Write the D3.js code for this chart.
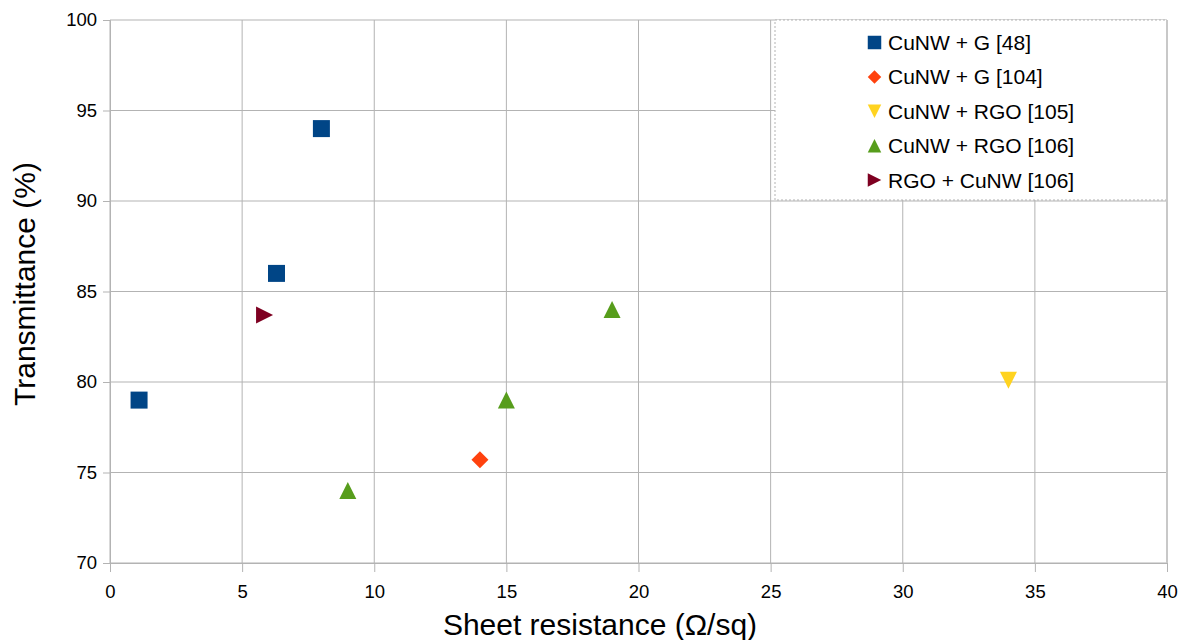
<!DOCTYPE html>
<html>
<head>
<meta charset="utf-8">
<script src="https://cdn.jsdelivr.net/npm/d3@7"></script>
<style>
  body { margin: 0; background: #fff; }
  svg { font-family: "Liberation Sans", Arial, sans-serif; }
</style>
</head>
<body>
<svg width="1182" height="640"></svg>
<script>
var width = 1182, height = 640;
var margin = {left: 110, right: 15, top: 20, bottom: 77};

// series
var seriesNames = ['CuNW + G [48]', 'CuNW + G [104]', 'CuNW + RGO [105]', 'CuNW + RGO [106]', 'RGO + CuNW [106]'];
var seriesColors = ['#004586', '#ff420e', '#ffd320', '#579d1c', '#7e0021'];
var seriesShapes = ['square', 'diamond', 'down', 'up', 'right'];
var cuG48 = [[1.1, 79], [6.3, 86], [8.0, 94]];
var cuG104 = [[14.0, 75.7]];
var cuRgo105 = [[34.0, 80.1]];
var cuRgo106 = [[9.0, 74], [15.0, 79], [19.0, 84]];
var rgoCu106 = [[5.85, 83.7]];
var seriesData = [cuG48, cuG104, cuRgo105, cuRgo106, rgoCu106];

var xTicks = [0, 5, 10, 15, 20, 25, 30, 35, 40];
var yTicks = [70, 75, 80, 85, 90, 95, 100];

var svg = d3.select('svg');
var x = d3.scaleLinear().domain([0, 40]).range([margin.left, width - margin.right]);
var y = d3.scaleLinear().domain([70, 100]).range([height - margin.bottom, margin.top]);

// grid
svg.append('g').selectAll('line.v').data(xTicks).enter().append('line')
  .attr('x1', d => x(d)).attr('x2', d => x(d))
  .attr('y1', y(100)).attr('y2', y(70))
  .attr('stroke', '#b3b3b3').attr('stroke-width', 1);
svg.append('g').selectAll('line.h').data(yTicks).enter().append('line')
  .attr('x1', x(0)).attr('x2', x(40))
  .attr('y1', d => y(d)).attr('y2', d => y(d))
  .attr('stroke', '#b3b3b3').attr('stroke-width', 1);

// axes
var xAxis = svg.append('g')
  .attr('transform', 'translate(0,' + y(70) + ')')
  .call(d3.axisBottom(x).tickValues(xTicks).tickSize(9).tickPadding(13));
var yAxis = svg.append('g')
  .attr('transform', 'translate(' + x(0) + ',0)')
  .call(d3.axisLeft(y).tickValues(yTicks).tickSize(7).tickPadding(6));
[xAxis, yAxis].forEach(function(a) {
  a.select('.domain').attr('stroke', '#b3b3b3');
  a.selectAll('.tick line').attr('stroke', '#b3b3b3');
  a.selectAll('text').attr('font-size', 18.5).attr('fill', '#000')
    .style('font-family', '"Liberation Sans", Arial, sans-serif');
});

// legend box
var lx = 775, ly = margin.top, lw = x(40) - 775, lh = 180;
svg.append('rect')
  .attr('x', lx).attr('y', ly).attr('width', lw).attr('height', lh)
  .attr('fill', '#fff').attr('stroke', '#b3b3b3').attr('stroke-dasharray', '2,2');

// right border
svg.append('line')
  .attr('x1', x(40)).attr('x2', x(40)).attr('y1', y(100)).attr('y2', y(70))
  .attr('stroke', '#c8c8c8').attr('stroke-width', 2);

function markerPath(shape, s) {
  var h = s / 2;
  if (shape == 'square') return 'M' + -h + ',' + -h + 'H' + h + 'V' + h + 'H' + -h + 'Z';
  if (shape == 'diamond') return 'M0,' + -h + 'L' + h + ',0L0,' + h + 'L' + -h + ',0Z';
  if (shape == 'up') return 'M0,' + -h + 'L' + h + ',' + h + 'L' + -h + ',' + h + 'Z';
  if (shape == 'down') return 'M' + -h + ',' + -h + 'L' + h + ',' + -h + 'L0,' + h + 'Z';
  if (shape == 'right') return 'M' + -h + ',' + -h + 'L' + h + ',0L' + -h + ',' + h + 'Z';
}
var markerSize = [17, 17, 17, 17, 17];

// points
seriesData.forEach(function(pts, i) {
  svg.append('g').selectAll('path').data(pts).enter().append('path')
    .attr('d', markerPath(seriesShapes[i], markerSize[i]))
    .attr('transform', d => 'translate(' + x(d[0]) + ',' + y(d[1]) + ')')
    .attr('fill', seriesColors[i]);
});

// legend entries
var leg = svg.append('g').selectAll('g').data(seriesNames).enter().append('g')
  .attr('transform', (d, i) => 'translate(874.5,' + (42.5 + i * 34.4) + ')');
leg.append('path')
  .attr('d', (d, i) => markerPath(seriesShapes[i], 13.5))
  .attr('fill', (d, i) => seriesColors[i]);
leg.append('text')
  .attr('x', 13.5).attr('dy', '0.36em')
  .attr('font-size', 21).attr('fill', '#000')
  .text(d => d);

// axis titles
svg.append('text')
  .attr('x', 600).attr('y', 635)
  .attr('text-anchor', 'middle').attr('font-size', 30)
  .text('Sheet resistance (Ω/sq)');
svg.append('text')
  .attr('transform', 'translate(35,284) rotate(-90)')
  .attr('text-anchor', 'middle').attr('font-size', 30)
  .text('Transmittance (%)');
</script>
</body>
</html>
